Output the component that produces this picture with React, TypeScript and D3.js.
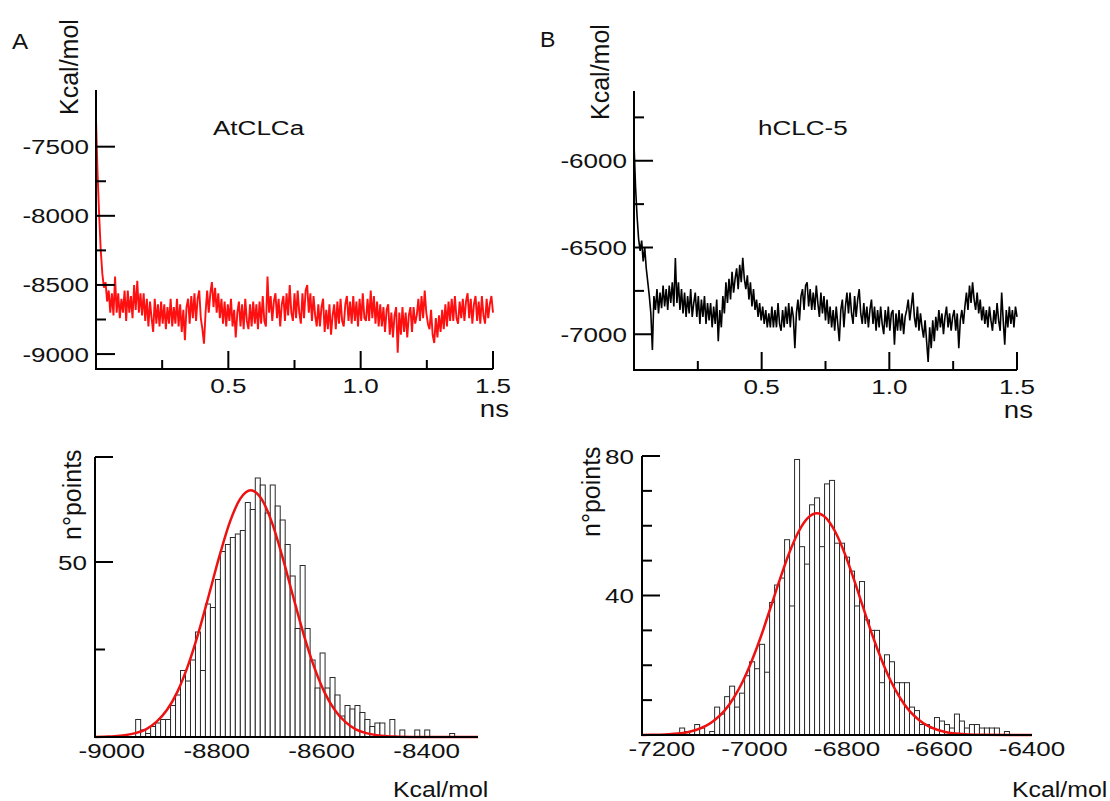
import React, { useEffect, useRef } from "react";
import * as d3 from "d3";

const W = 1110;
const H = 801;
const FONT = "'Liberation Sans', Arial, Helvetica, sans-serif";

// MD trajectories: total energy, one frame every timeStepNs
const timeStepNs = 0.006;
const energyAtCLCa = [
  -7300, -7700, -8000, -8250, -8420, -8520, -8480, -8620, -8540, -8700,
  -8560, -8720, -8440, -8700, -8560, -8740, -8600, -8700, -8540, -8760,
  -8540, -8700, -8580, -8740, -8500, -8680, -8470, -8700, -8560, -8720,
  -8560, -8760, -8600, -8800, -8620, -8740, -8840, -8600, -8780, -8640,
  -8800, -8620, -8780, -8640, -8820, -8660, -8780, -8600, -8800, -8660,
  -8780, -8600, -8800, -8640, -8840, -8680, -8900, -8660, -8600, -8780,
  -8580, -8740, -8560, -8760, -8600, -8540, -8740, -8820, -8925, -8700,
  -8540, -8700, -8560, -8480, -8660, -8520, -8700, -8560, -8740, -8600,
  -8780, -8620, -8800, -8640, -8760, -8600, -8800, -8680, -8880, -8700,
  -8620, -8800, -8640, -8820, -8600, -8760, -8820, -8640, -8800, -8620,
  -8780, -8640, -8820, -8620, -8780, -8580, -8760, -8800, -8440, -8700,
  -8580, -8760, -8620, -8560, -8740, -8600, -8800, -8640, -8580, -8760,
  -8560, -8720, -8500, -8700, -8760, -8560, -8740, -8540, -8700, -8780,
  -8560, -8740, -8540, -8500, -8700, -8560, -8760, -8580, -8720, -8800,
  -8640, -8800, -8660, -8600, -8840, -8680, -8820, -8640, -8860, -8720,
  -8640, -8820, -8620, -8780, -8600, -8760, -8800, -8640, -8580, -8760,
  -8620, -8780, -8580, -8760, -8620, -8800, -8600, -8760, -8560, -8740,
  -8760, -8600, -8760, -8540, -8740, -8580, -8780, -8620, -8800, -8640,
  -8800, -8660, -8840, -8680, -8640, -8860, -8700, -8880, -8720, -8660,
  -8990, -8700, -8860, -8660, -8840, -8700, -8880, -8720, -8660, -8840,
  -8660, -8780, -8720, -8600, -8760, -8580, -8740, -8540, -8700, -8780,
  -8820, -8680, -8860, -8920, -8740, -8880, -8720, -8840, -8680, -8820,
  -8640, -8800, -8620, -8760, -8600, -8760, -8580, -8740, -8780, -8620,
  -8740, -8600, -8760, -8620, -8560, -8740, -8600, -8780, -8640, -8580,
  -8760, -8620, -8780, -8580, -8720, -8780, -8600, -8740, -8640, -8580,
  -8700,
];
const energyHCLC5 = [
  -5900, -6150, -6320, -6450, -6520, -6460, -6580, -6500, -6620, -6700,
  -6780, -6880, -7090, -6780, -6860, -6740, -6880, -6760, -6850, -6720,
  -6840, -6740, -6860, -6720, -6820, -6700, -6840, -6560, -6820, -6700,
  -6860, -6740, -6880, -6760, -6900, -6780, -6880, -6740, -6900, -6820,
  -6760, -6900, -6780, -6940, -6800, -6900, -6780, -6940, -6820, -6920,
  -6820, -6960, -6840, -6940, -6800, -7040, -6860, -6960, -6780, -6880,
  -6700, -6820, -6680, -6800, -6640, -6760, -6680, -6620, -6740, -6600,
  -6700, -6560, -6680, -6740, -6660, -6800, -6700, -6840, -6740, -6860,
  -6800, -6900, -6820, -6920, -6840, -6940, -6860, -6960, -6880, -6960,
  -6840, -6960, -6860, -6960, -6820, -6940, -6980, -6860, -6960, -6840,
  -6940, -6820, -6960, -6840, -6900, -7080, -6880, -6800, -6920, -6780,
  -6740, -6860, -6720, -6700, -6840, -6740, -6860, -6760, -6860, -6720,
  -6820, -6900, -6760, -6880, -6780, -6920, -6800, -6940, -6840, -6960,
  -6860, -6980, -6840, -6940, -7040, -6860, -6800, -6960, -6840, -6760,
  -6880, -6760, -6880, -6940, -6780, -6900, -6800, -6740, -6880, -6940,
  -6820, -6940, -6840, -6960, -6860, -6800, -6940, -6840, -6980, -6860,
  -6960, -6840, -6940, -7000, -6860, -6960, -6840, -6980, -6880, -6860,
  -7060, -6880, -6980, -6860, -6980, -6880, -7000, -6900, -6860, -6800,
  -6920, -6840, -6760, -6900, -6960, -6840, -6980, -6880, -6960, -7020,
  -6920, -7040, -7160, -6960, -7080, -6920, -7040, -6900, -6980, -6860,
  -6960, -6880, -7000, -6900, -6840, -6960, -6880, -6980, -6900, -6860,
  -6980, -6880, -7080, -6920, -6860, -6940, -6840, -6760, -6860, -6720,
  -6820, -6700, -6800, -6860, -6760, -6880, -6800, -6920, -6840, -6940,
  -6860, -6960, -6840, -6920, -6980, -6860, -6940, -6820, -6920, -6980,
  -6760, -6920, -7060, -6860, -6960, -6840, -6940, -6860, -6960, -6840,
  -6900,
];

const energyTicksA = [-9000, -8500, -8000, -7500];
const energyMinorA = [-8750, -8250, -7750];
const energyTicksB = [-7000, -6500, -6000];
const energyMinorB = [-6750, -6250, -5750];
const timeTicks = [0.5, 1.0, 1.5];
const timeMinor = [0.25, 0.75, 1.25];

// energy histograms (bin start, bin width, counts)
const histAtCLCaStart = -8964;
const histAtCLCaBin = 9.5;
const histAtCLCaCounts = [
  0, 5, 2, 1, 3, 4, 5, 5, 9, 12, 19, 16, 22, 30, 19, 38, 37, 45, 53, 55,
  57, 58, 59, 67, 65, 74, 72, 64, 72, 66, 62, 55, 46, 31, 49, 31, 22, 14, 24, 14,
  17, 12, 6, 9, 8, 9, 7, 5, 3, 4, 4, 0, 5, 0, 2, 0, 0, 2, 0, 2,
  0, 0, 0, 0, 1, 0,
];
const histHCLC5Start = -7194;
const histHCLC5Bin = 10.8;
const histHCLC5Counts = [
  0, 0, 0, 2, 1, 1, 3, 2, 0, 1, 8, 6, 11, 14, 8, 12, 17, 21, 19, 26,
  18, 38, 43, 45, 56, 37, 79, 54, 49, 66, 68, 54, 72, 73, 55, 55, 51, 47, 37, 44,
  33, 30, 30, 15, 23, 21, 15, 15, 15, 8, 7, 3, 3, 2, 5, 4, 3, 2, 6, 4,
  2, 3, 3, 2, 2, 2, 2, 0, 1,
];

// gaussian fits
const fitAtCLCaX = [
  -9032, -9015, -8995, -8975, -8955, -8935, -8915, -8895, -8875, -8855, -8835, -8815,
  -8795, -8775, -8755, -8735, -8715, -8695, -8675, -8655, -8635, -8615, -8595, -8575,
  -8555, -8535, -8515, -8495, -8475, -8455, -8400, -8302,
];
const fitAtCLCaY = [
  0, 0.1, 0.2, 0.5, 1.1, 2.2, 4.3, 7.7, 12.9, 20.3, 29.7, 40.5,
  51.6, 61.4, 68.1, 70.5, 68.1, 61.4, 51.6, 40.5, 29.7, 20.3, 12.9, 7.7,
  4.3, 2.2, 1.1, 0.5, 0.2, 0.1, 0, 0,
];
const fitHCLC5X = [
  -7243, -7225, -7205, -7185, -7165, -7145, -7125, -7105, -7085, -7065, -7045, -7025,
  -7005, -6985, -6965, -6945, -6925, -6905, -6885, -6865, -6845, -6825, -6805, -6785,
  -6765, -6745, -6725, -6705, -6685, -6665, -6645, -6625, -6605, -6585, -6565, -6545,
  -6525, -6505, -6450, -6400,
];
const fitHCLC5Y = [
  0, 0.05, 0.1, 0.2, 0.4, 0.8, 1.5, 2.6, 4.4, 6.9, 10.6, 15.4,
  21.5, 28.6, 36.6, 44.6, 52.1, 58.2, 62.2, 63.6, 62.2, 58.2, 52.1, 44.6,
  36.6, 28.6, 21.5, 15.4, 10.6, 6.9, 4.4, 2.6, 1.5, 0.8, 0.4, 0.2,
  0.1, 0.05, 0, 0,
];
const histTicksA = [-9000, -8800, -8600, -8400];
const histTicksB = [-7200, -7000, -6800, -6600, -6400];

export default function App() {
  const svgRef = useRef<SVGSVGElement>(null);

  useEffect(() => {
    const svg = d3.select(svgRef.current);
    svg.selectAll("*").remove();

    svg.append("rect").attr("width", W).attr("height", H).attr("fill", "#fff");

    const text = (x, y, str, size, sx = 1.24, anchor = "start", rot = false) =>
      svg
        .append("text")
        .attr("transform", `translate(${x},${y})${rot ? " rotate(-90)" : ""} scale(${sx},1)`)
        .attr("text-anchor", anchor)
        .attr("font-family", FONT)
        .attr("font-size", size)
        .attr("fill", "#111")
        .text(str);

    const tick = (x1, y1, x2, y2) =>
      svg
        .append("line")
        .attr("x1", x1)
        .attr("y1", y1)
        .attr("x2", x2)
        .attr("y2", y2)
        .attr("stroke", "#000")
        .attr("stroke-width", 2);

    // ---- energy vs time panels ----
    const timePanel = (p) => {
      const x = d3.scaleLinear().domain([0, 1.5]).range([p.x0, p.x1]);
      const y = d3.scaleLinear().domain(p.yDomain).range([p.yBottom, p.yTop]);

      const line = d3
        .line<number>()
        .x((_, i) => x(i * timeStepNs))
        .y((d) => y(d));
      svg
        .append("path")
        .datum(p.values)
        .attr("d", line)
        .attr("fill", "none")
        .attr("stroke", p.color)
        .attr("stroke-width", p.width)
        .attr("stroke-linejoin", "bevel");

      svg
        .append("path")
        .attr("d", `M${p.x0},${p.yTop}V${p.yBottom}H${p.x1}`)
        .attr("fill", "none")
        .attr("stroke", "#000")
        .attr("stroke-width", 2);

      p.ticks.forEach((v) => {
        tick(p.x0, y(v), p.x0 + 19, y(v));
        text(p.labelX, y(v) + 7.5, String(v), 21, 1.24, "end");
      });
      p.minor.forEach((v) => tick(p.x0, y(v), p.x0 + 10, y(v)));
      timeTicks.forEach((t) => {
        tick(x(t), p.yBottom, x(t), p.yBottom - 18);
        text(x(t), p.yBottom + 24, t.toFixed(1), 21, 1.24, "middle");
      });
      timeMinor.forEach((t) => tick(x(t), p.yBottom, x(t), p.yBottom - 9));
      text(p.x1 + 16, p.yBottom + 48, "ns", 23, 1.2, "end");
      text(p.titleX, 135, p.title, 21, 1.24, "start");
      text(p.unitX, p.unitY, "Kcal/mol", 25, 1, "start", true);
    };

    timePanel({
      values: energyAtCLCa,
      color: "#ff1010",
      width: 1.9,
      x0: 96,
      x1: 493,
      yTop: 90,
      yBottom: 369,
      yDomain: [-9108, -7090],
      ticks: energyTicksA,
      minor: energyMinorA,
      labelX: 89,
      title: "AtCLCa",
      titleX: 213,
      unitX: 78,
      unitY: 115,
    });
    timePanel({
      values: energyHCLC5,
      color: "#000",
      width: 1.6,
      x0: 634,
      x1: 1017,
      yTop: 91,
      yBottom: 370,
      yDomain: [-7206, -5598],
      ticks: energyTicksB,
      minor: energyMinorB,
      labelX: 627,
      title: "hCLC-5",
      titleX: 758,
      unitX: 609,
      unitY: 120,
    });

    text(12, 49, "A", 22, 1.1);
    text(540, 47, "B", 22, 1.05);

    // ---- histogram panels ----
    const histPanel = (p) => {
      const x = d3.scaleLinear().domain(p.xDomain).range([p.x0, p.x1]);
      const y = d3.scaleLinear().domain([0, 80]).range([p.yBottom, p.yTop]);

      svg
        .append("g")
        .selectAll("rect")
        .data(p.counts.map((c, i) => ({ c, lo: p.start + i * p.bin })).filter((d) => d.c > 0))
        .enter()
        .append("rect")
        .attr("x", (d) => x(d.lo))
        .attr("y", (d) => y(d.c))
        .attr("width", (d) => x(d.lo + p.bin) - x(d.lo))
        .attr("height", (d) => p.yBottom - y(d.c))
        .attr("fill", "#fff")
        .attr("stroke", "#2a2a2a")
        .attr("stroke-width", 1);

      const fit = d3
        .line<number>()
        .x((d) => x(d))
        .y((_, i) => y(p.fitY[i]))
        .curve(d3.curveMonotoneX);
      svg
        .append("path")
        .datum(p.fitX)
        .attr("d", fit)
        .attr("fill", "none")
        .attr("stroke", "#ee1111")
        .attr("stroke-width", 2.5);

      svg
        .append("path")
        .attr("d", `M${p.x0},${p.yTop}V${p.yBottom}H${p.x1}`)
        .attr("fill", "none")
        .attr("stroke", "#000")
        .attr("stroke-width", 2);

      p.major.forEach((v) => {
        tick(p.x0, y(v), p.x0 + 18, y(v));
        if (p.labels.includes(v)) text(p.x0 - 8, y(v) + 7.5, String(v), 21, 1.24, "end");
      });
      p.minor.forEach((v) => tick(p.x0, y(v), p.x0 + 10, y(v)));
      p.xTicks.forEach((v) => text(x(v), p.yBottom + 21, String(v), 21, 1.24, "middle"));
      text(p.unitX, 797, "Kcal/mol", 22, 1.13, "start");
      text(p.pointsX, p.pointsY, "n°points", 25, 1, "start", true);
    };

    histPanel({
      counts: histAtCLCaCounts,
      start: histAtCLCaStart,
      bin: histAtCLCaBin,
      fitX: fitAtCLCaX,
      fitY: fitAtCLCaY,
      xDomain: [-9032, -8302],
      x0: 95,
      x1: 478,
      yTop: 457,
      yBottom: 737,
      major: [50, 80],
      labels: [50],
      minor: [25],
      xTicks: histTicksA,
      unitX: 393,
      pointsX: 81,
      pointsY: 540,
    });
    histPanel({
      counts: histHCLC5Counts,
      start: histHCLC5Start,
      bin: histHCLC5Bin,
      fitX: fitHCLC5X,
      fitY: fitHCLC5Y,
      xDomain: [-7243, -6400],
      x0: 642,
      x1: 1032,
      yTop: 456,
      yBottom: 735,
      major: [40, 80],
      labels: [40, 80],
      minor: [10, 20, 30, 50, 60, 70],
      xTicks: histTicksB,
      unitX: 1012,
      pointsX: 600,
      pointsY: 537,
    });
  }, []);

  return (
    <svg
      ref={svgRef}
      width={W}
      height={H}
      style={{ position: "absolute", left: 0, top: 0, display: "block" }}
    />
  );
}
